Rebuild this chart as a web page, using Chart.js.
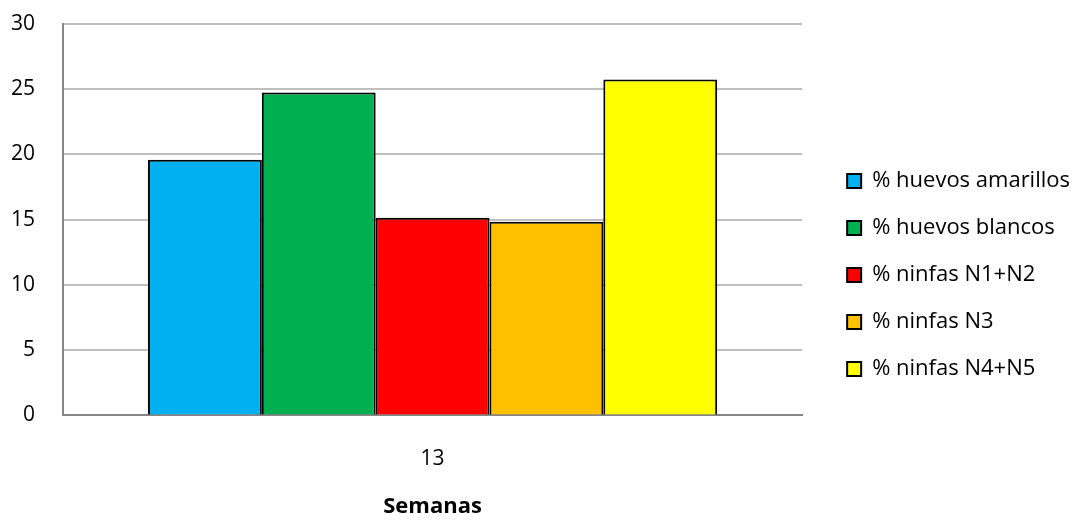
<!DOCTYPE html>
<html>
<head>
<meta charset="utf-8">
<script src="https://cdn.jsdelivr.net/npm/chart.js@4.4.0/dist/chart.umd.min.js"></script>
<style>
  body { margin: 0; background: #fff; }
  #wrap { width: 1078px; height: 520px; }
</style>
</head>
<body>
<div id="wrap"><canvas id="myChart"></canvas></div>
<script>
const weeks = ["13"];
const seriesNames = ["% huevos amarillos", "% huevos blancos", "% ninfas N1+N2", "% ninfas N3", "% ninfas N4+N5"];
const seriesValues = [[19.6], [24.75], [15.15], [14.85], [25.75]];
const seriesColors = ["#00b0f0", "#00b050", "#ff0000", "#ffc000", "#ffff00"];
const yTicks = [0, 5, 10, 15, 20, 25, 30];

const font = "'Open Sans', 'Noto Sans', sans-serif";

const datasets = seriesNames.map((name, i) => ({
    label: name,
    data: seriesValues[i],
    backgroundColor: seriesColors[i],
    borderColor: "#000000",
    borderWidth: 2,
    categoryPercentage: 0.77,
    barPercentage: 1.0
}));

// nudge the legend a bit to the right / down, like the original
const legendNudge = {
    id: "legendNudge",
    afterLayout: (chart) => {
        const lg = chart.legend;
        lg.left += 20;
        lg.right += 20;
        lg.top += 3;
        lg.bottom += 3;
    }
};

new Chart("myChart", {
    type: "bar",
    data: { labels: weeks, datasets: datasets },
    plugins: [legendNudge],
    options: {
        responsive: true,
        maintainAspectRatio: false,
        animation: false,
        layout: { padding: { top: 24, left: 11, right: 18, bottom: 0 } },
        scales: {
            x: {
                grid: { display: true, drawOnChartArea: false, drawTicks: true, tickLength: 31, tickColor: "rgba(0,0,0,0)" },
                border: { color: "#868686", width: 2 },
                ticks: { color: "#000", font: { family: font, size: 21 }, padding: 0 },
                title: {
                    display: true,
                    text: "Semanas",
                    color: "#000",
                    font: { family: font, size: 22, weight: "bold" },
                    padding: { top: 22, bottom: 0 }
                }
            },
            y: {
                min: 0,
                max: 30,
                afterBuildTicks: (axis) => { axis.ticks = yTicks.map(v => ({ value: v })); },
                grid: { color: "#bfbfbf", lineWidth: 2, drawTicks: true, tickLength: 28, tickColor: "rgba(0,0,0,0)" },
                border: { color: "#868686", width: 2 },
                ticks: { color: "#000", font: { family: font, size: 21 }, padding: 0 }
            }
        },
        plugins: {
            legend: {
                display: true,
                position: "right",
                labels: {
                    color: "#000",
                    font: { family: font, size: 22 },
                    boxWidth: 14,
                    boxHeight: 14,
                    padding: 25
                }
            },
            title: { display: false },
            tooltip: { enabled: false }
        }
    }
});
</script>
</body>
</html>
